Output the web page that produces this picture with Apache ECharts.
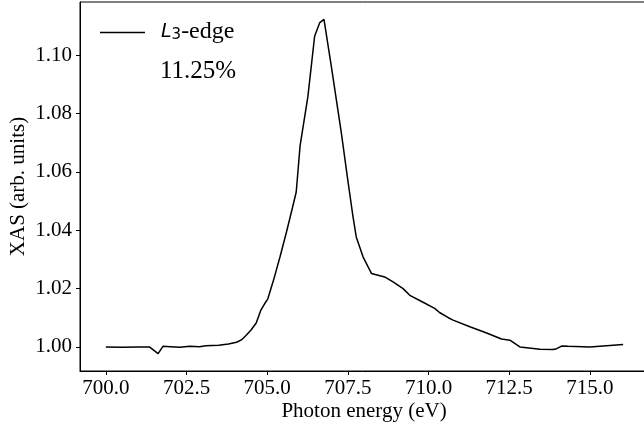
<!DOCTYPE html>
<html>
<head>
<meta charset="utf-8">
<script src="https://cdn.jsdelivr.net/npm/echarts@6/dist/echarts.min.js"></script>
<style>
  html, body { margin: 0; padding: 0; background: #fff; }
  #chart { width: 644px; height: 427px; }
</style>
</head>
<body>
<div id="chart"></div>
<script>
// Photon energy (eV) and normalised absorption at the L3 edge
const energy = [
  700.0, 700.5, 701.0, 701.35, 701.62, 701.77, 702.0, 702.3, 702.6, 702.9,
  703.1, 703.5, 703.8, 704.05, 704.2, 704.35, 704.5, 704.66, 704.8, 704.92,
  705.02, 705.2, 705.4, 705.6, 705.8, 705.9, 706.02, 706.26, 706.47, 706.63,
  706.76, 706.99, 707.3, 707.5, 707.66, 707.76, 707.97, 708.23, 708.64, 708.9,
  709.21, 709.42, 709.8, 710.19, 710.34, 710.6, 710.76, 711.28, 711.8, 712.26,
  712.52, 712.83, 713.45, 713.86, 713.97, 714.12, 714.33, 715.0, 716.03
];
const xas = [
  1.0000, 0.9999, 1.0000, 1.0000, 0.9977, 1.0002, 1.0001, 0.9999, 1.0002, 1.0001,
  1.0004, 1.0006, 1.0010, 1.0016, 1.0024, 1.0040, 1.0058, 1.0082, 1.0125, 1.0148,
  1.0165, 1.0230, 1.0310, 1.0395, 1.0485, 1.0531, 1.0690, 1.0857, 1.1065, 1.1112,
  1.1123, 1.0960, 1.0732, 1.0570, 1.0446, 1.0377, 1.0309, 1.0252, 1.0240, 1.0223,
  1.0200, 1.0177, 1.0155, 1.0132, 1.0118, 1.0101, 1.0092, 1.0069, 1.0048, 1.0027,
  1.0023, 1.0000, 0.9992, 0.9991, 0.9994, 1.0003, 1.0002, 1.0000, 1.0008
];

const xTicks = [700.0, 702.5, 705.0, 707.5, 710.0, 712.5, 715.0];
const yTicks = [1.00, 1.02, 1.04, 1.06, 1.08, 1.10];

const seriesName = 'L3-edge';
const annotation = '11.25%';

const serif = '"Liberation Serif", "Times New Roman", serif';
const sans = '"DejaVu Sans", sans-serif';

const chart = echarts.init(document.getElementById('chart'), null, { renderer: 'canvas' });

chart.setOption({
  animation: false,
  backgroundColor: '#fff',
  grid: {
    left: 80, top: 2, right: -4, bottom: 56,
    show: true, borderColor: '#000', borderWidth: 1,
    containLabel: false,
    outerBoundsMode: 'none'
  },
  xAxis: {
    type: 'value',
    min: 699.2, max: 716.8,
    name: 'Photon energy (eV)',
    nameLocation: 'middle',
    nameGap: 30,
    nameMoveOverlap: false,
    nameTextStyle: { fontFamily: serif, fontSize: 21, color: '#000' },
    splitLine: { show: false },
    axisLine: { show: true, onZero: false, lineStyle: { color: '#000', width: 1 } },
    axisTick: { show: true, inside: false, length: 4, customValues: xTicks, lineStyle: { color: '#000' } },
    axisLabel: {
      customValues: xTicks, margin: 7,
      fontFamily: serif, fontSize: 21, color: '#000',
      formatter: v => v.toFixed(1)
    }
  },
  yAxis: {
    type: 'value',
    min: 0.99175, max: 1.11825,
    name: 'XAS (arb. units)',
    nameLocation: 'middle',
    nameGap: 51,
    nameMoveOverlap: false,
    nameTextStyle: { fontFamily: serif, fontSize: 21, color: '#000' },
    splitLine: { show: false },
    axisLine: { show: true, onZero: false, lineStyle: { color: '#000', width: 1 } },
    axisTick: { show: true, inside: false, length: 4, customValues: yTicks, lineStyle: { color: '#000' } },
    axisLabel: {
      customValues: yTicks, margin: 8,
      fontFamily: serif, fontSize: 21, color: '#000',
      formatter: v => v.toFixed(2)
    }
  },
  graphic: [
    // legend entry: line sample + label
    {
      type: 'line',
      shape: { x1: 100, y1: 32.5, x2: 145, y2: 32.5 },
      style: { stroke: '#000', lineWidth: 1.5 }
    },
    {
      type: 'text',
      x: 161, y: 20,
      style: {
        text: '{i|L}{s|3}{t|-edge}',
        rich: {
          i: { fontFamily: sans, fontStyle: 'italic', fontSize: 19, fill: '#000', color: '#000' },
          s: { fontFamily: sans, fontSize: 15, fill: '#000', color: '#000', padding: [6, 0, 0, 0] },
          t: { fontFamily: serif, fontSize: 24, fill: '#000', color: '#000' }
        }
      }
    },
    {
      type: 'text',
      x: 160, y: 59,
      style: { text: annotation, font: '25px ' + serif, fill: '#000' }
    }
  ],
  series: [{
    name: seriesName,
    type: 'line',
    data: energy.map((e, i) => [e, xas[i]]),
    showSymbol: false,
    symbol: 'none',
    lineStyle: { color: '#000', width: 1.5 },
    itemStyle: { color: '#000' }
  }]
});
</script>
</body>
</html>
